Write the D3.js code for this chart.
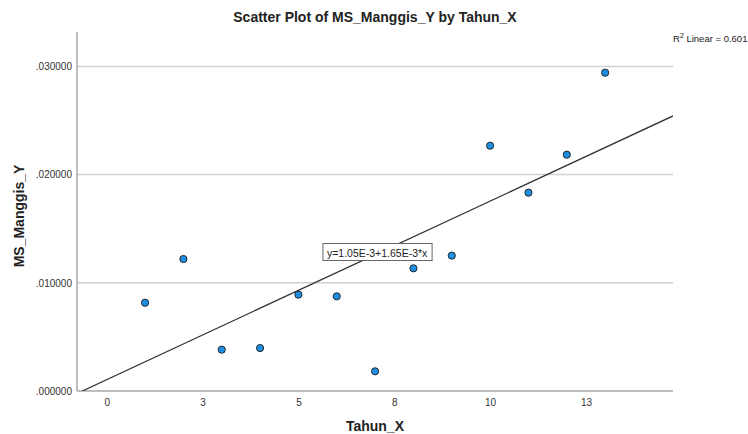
<!DOCTYPE html>
<html>
<head>
<meta charset="utf-8">
<script src="https://cdn.jsdelivr.net/npm/d3@7"></script>
<style>
  body { margin: 0; background: #fff; }
  svg { display: block; font-family: "Liberation Sans", Arial, sans-serif; }
</style>
</head>
<body>
<svg id="chart" width="748" height="434"></svg>
<script>
// ---- data ----
const tahunX = [1, 2, 3, 4, 5, 6, 7, 8, 9, 10, 11, 12, 13];
const msManggisY = [0.00816, 0.01220, 0.00382, 0.00397, 0.00890, 0.00875, 0.00182,
                    0.01134, 0.01251, 0.02267, 0.01833, 0.02184, 0.02942];
const xTickValues = [0, 2.5, 5, 7.5, 10, 12.5];
const xTickLabels = ["0", "3", "5", "8", "10", "13"];
const yTickValues = [0, 0.01, 0.02, 0.03];
const yTickLabels = [".000000", ".010000", ".020000", ".030000"];
const fitIntercept = 1.05e-3;
const fitSlope = 1.65e-3;
const fitLabel = "y=1.05E-3+1.65E-3*x";
const r2Label = "0.601";

// ---- layout ----
const svg = d3.select("#chart");
const L = 77, R = 673, T = 32, B = 391;

const x = d3.scaleLinear().domain([-0.775, 14.77]).range([L, R]);
const y = d3.scaleLinear().domain([0, 0.03318]).range([B, T]);

// gridlines
svg.append("g").selectAll("line").data(yTickValues.filter(d => d > 0)).join("line")
  .attr("x1", L).attr("x2", R)
  .attr("y1", d => y(d)).attr("y2", d => y(d))
  .attr("stroke", "#d0d0d0").attr("stroke-width", 1.5);

// y axis
const yAxis = d3.axisLeft(y).tickValues(yTickValues)
  .tickFormat((d, i) => yTickLabels[i]).tickSize(0).tickPadding(5);
const gy = svg.append("g").attr("transform", `translate(${L},0)`).call(yAxis);
gy.select(".domain").remove();
gy.selectAll("text").attr("font-size", 10).attr("fill", "#333");
svg.append("line").attr("x1", L).attr("x2", L).attr("y1", T).attr("y2", B)
  .attr("stroke", "#a8a8a8").attr("stroke-width", 1.5);

// x axis
const xAxis = d3.axisBottom(x).tickValues(xTickValues)
  .tickFormat((d, i) => xTickLabels[i]).tickSize(0).tickPadding(8);
const gx = svg.append("g").attr("transform", `translate(0,${B})`).call(xAxis);
gx.select(".domain").remove();
gx.selectAll("text").attr("font-size", 10).attr("fill", "#333");
svg.append("line").attr("x1", L).attr("x2", R).attr("y1", B).attr("y2", B)
  .attr("stroke", "#a8a8a8").attr("stroke-width", 1.5);

// regression line clipped to plot
svg.append("clipPath").attr("id", "plotclip").append("rect")
  .attr("x", L).attr("y", T).attr("width", R - L).attr("height", B - T);
const x0 = -fitIntercept / fitSlope;
const xs = [Math.max(x0, x.domain()[0]), x.domain()[1]];
svg.append("line").attr("clip-path", "url(#plotclip)")
  .attr("x1", x(xs[0])).attr("y1", y(fitIntercept + fitSlope * xs[0]))
  .attr("x2", x(xs[1])).attr("y2", y(fitIntercept + fitSlope * xs[1]))
  .attr("stroke", "#333").attr("stroke-width", 1.3);

// points
svg.append("g").selectAll("circle").data(tahunX).join("circle")
  .attr("cx", d => x(d)).attr("cy", (d, i) => y(msManggisY[i]))
  .attr("r", 3.6).attr("fill", "#1e8fe0").attr("stroke", "#1a1a1a").attr("stroke-width", 0.9);

// fit label box
const lbl = svg.append("g").attr("transform", `translate(${x(5.64)},${y(0.01277)})`);
const lt = lbl.append("text").attr("x", 4).attr("y", 0).attr("dy", "0.35em")
  .attr("font-size", 10.5).attr("fill", "#222").text(fitLabel);
const bb = lt.node().getBBox();
lbl.insert("rect", "text").attr("x", 0).attr("y", bb.y - 3)
  .attr("width", bb.width + 8).attr("height", bb.height + 5)
  .attr("fill", "#fff").attr("stroke", "#666").attr("stroke-width", 1);

// title
svg.append("text").attr("x", 375).attr("y", 22).attr("text-anchor", "middle")
  .attr("font-size", 14).attr("font-weight", "bold").attr("fill", "#222")
  .text("Scatter Plot of MS_Manggis_Y by Tahun_X");

// R2 label
const r2 = svg.append("text").attr("x", 673).attr("y", 42).attr("font-size", 9.5).attr("fill", "#222");
r2.append("tspan").text("R");
r2.append("tspan").attr("dy", -4).attr("font-size", 7).text("2");
r2.append("tspan").attr("dy", 4).text(" Linear = " + r2Label);

// axis titles
svg.append("text").attr("x", 375).attr("y", 431).attr("text-anchor", "middle")
  .attr("font-size", 14).attr("font-weight", "bold").attr("fill", "#222").text("Tahun_X");
svg.append("text").attr("transform", "translate(24,216) rotate(-90)").attr("text-anchor", "middle")
  .attr("font-size", 14).attr("font-weight", "bold").attr("fill", "#222").text("MS_Manggis_Y");
</script>
</body>
</html>
